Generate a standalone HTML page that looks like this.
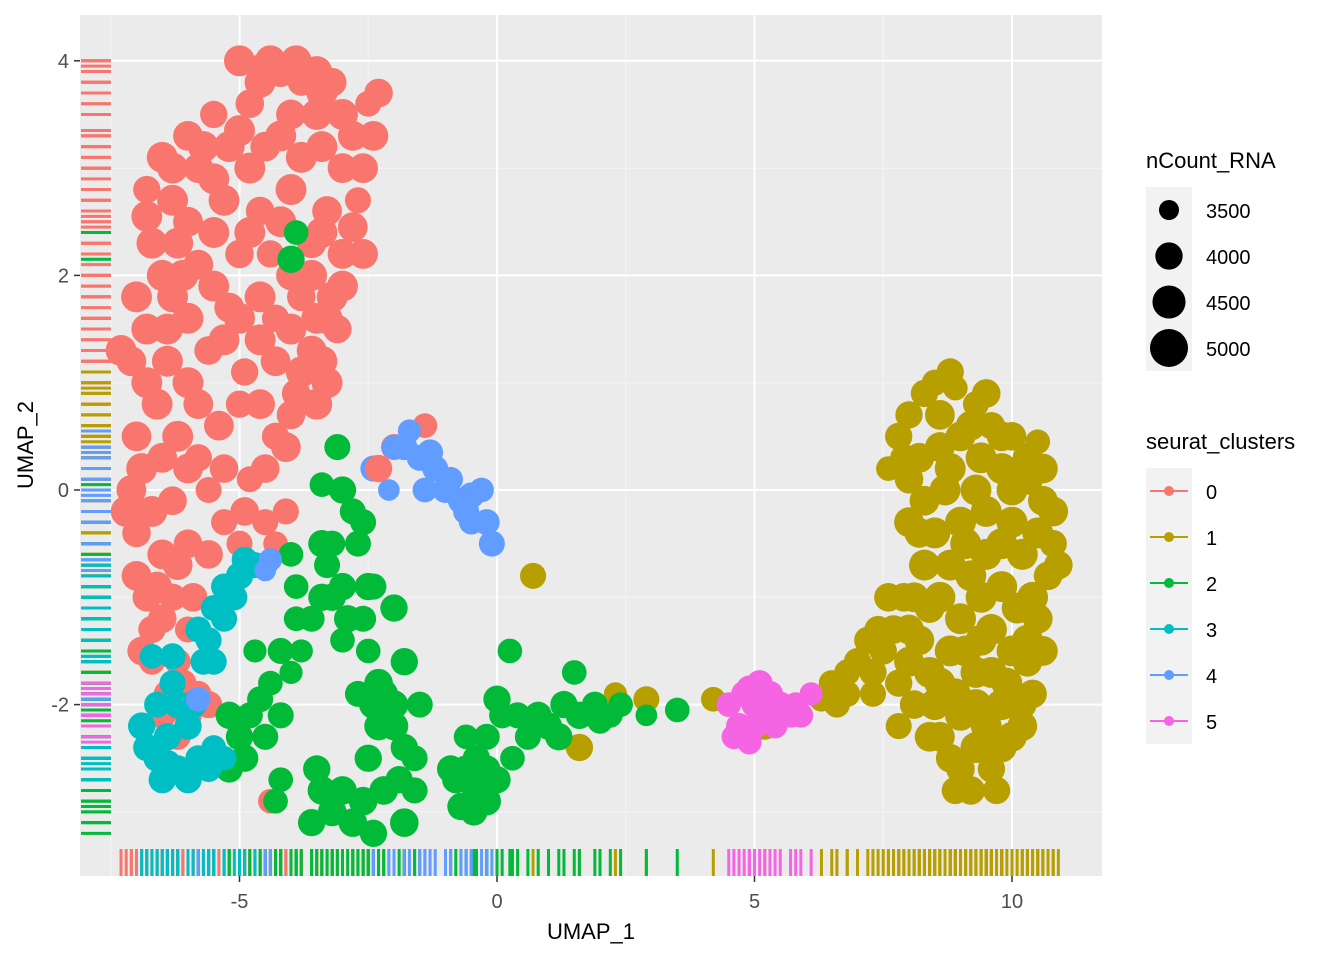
<!DOCTYPE html>
<html><head><meta charset="utf-8"><style>
body{margin:0;background:#fff;font-family:"Liberation Sans",sans-serif}
svg text{font-family:"Liberation Sans",sans-serif}
</style></head><body>
<svg id="chart" width="1344" height="960" xmlns="http://www.w3.org/2000/svg">
<rect x="0" y="0" width="1344" height="960" fill="#fff"/>
<rect x="80" y="15" width="1022" height="861" fill="#EBEBEB"/>
<g id="grid"></g><g id="rugs"></g><g id="points"></g><g id="axes"></g><g id="legend"></g>
</svg>
<script>
const xTicks=[-5,0,5,10];
const yTicks=[4,2,0,-2];
const clusterNames=["0","1","2","3","4","5"];
const clusterColors=["#F8766D","#B79F00","#00BA38","#00BFC4","#619CFF","#F564E3"];
const sizeBreaks=[3500,4000,4500,5000];
// [x, y, nCount]
const c0=[[-5.0,4.0,4300],[-4.5,3.95,4200],[-4.2,3.9,4300],[-3.8,3.8,4000],[-3.2,3.8,4100],[-2.5,3.6,3900],[-2.8,3.3,4200],[-3.5,3.5,4300],[-4.0,3.5,4200],[-4.8,3.6,4100],[-5.5,3.5,4000],[-6.0,3.3,4200],[-6.5,3.1,4300],[-6.8,2.8,4000],[-6.3,2.7,4300],[-5.8,3.0,4200],[-5.2,3.2,4300],[-4.5,3.2,4200],[-3.8,3.1,4300],[-3.0,3.0,4200],[-2.7,2.7,3900],[-3.3,2.6,4200],[-4.0,2.8,4300],[-4.6,2.6,4100],[-5.3,2.7,4300],[-6.0,2.5,4200],[-6.7,2.3,4300],[-6.5,2.0,4300],[-5.8,2.1,4200],[-5.0,2.2,4100],[-4.4,2.2,4000],[-3.6,2.3,4200],[-3.0,2.2,4200],[-3.2,1.8,4300],[-3.8,1.8,4100],[-4.3,1.6,4000],[-5.2,1.7,4200],[-6.0,1.6,4300],[-6.8,1.5,4300],[-7.1,1.2,4200],[-6.4,1.2,4300],[-5.6,1.3,4100],[-4.9,1.1,4000],[-4.3,1.2,4200],[-3.6,1.3,4200],[-3.1,1.5,4100],[-3.3,1.0,4300],[-3.9,0.9,4100],[-4.3,0.5,4000],[-4.0,0.7,4100],[-5.0,0.8,4000],[-5.8,0.8,4200],[-6.6,0.8,4300],[-7.0,0.5,4200],[-6.5,0.3,4200],[-5.8,0.3,4000],[-5.6,0.0,3900],[-6.3,-0.1,4100],[-7.1,0.0,4200],[-7.0,-0.4,4100],[-6.5,-0.6,4200],[-6.0,-0.5,4100],[-5.3,-0.3,3900],[-5.0,-0.5,3900],[-4.5,-0.3,3900],[-4.8,0.1,3900],[-4.1,-0.2,3900],[-4.3,-0.5,3800],[-6.8,-1.0,4100],[-6.3,-1.0,4000],[-6.0,-1.3,3900],[-6.7,-1.3,4000],[-6.2,-1.6,3900],[-6.7,-1.6,3900],[-6.4,-1.9,4000],[-5.8,-1.9,3900],[-6.2,-2.3,3900],[-5.9,-2.6,3900],[-4.4,-2.9,3800],[-1.4,0.6,3800],[-2.0,0.4,3900],[-4.0,2.0,4200],
[-4.6,3.8,4300],[-3.5,3.9,4300],[-3.0,3.5,4300],[-2.4,3.3,4200],[-2.6,3.0,4200],[-3.4,3.2,4300],[-4.2,3.3,4300],[-5.0,3.35,4300],[-5.7,3.2,4300],[-6.3,3.0,4300],[-6.8,2.55,4300],[-6.2,2.3,4300],[-5.5,2.4,4300],[-4.8,2.4,4300],[-4.2,2.5,4300],[-3.4,2.4,4300],[-2.8,2.45,4200],[-2.6,2.2,4200],[-3.0,1.9,4300],[-3.5,1.6,4300],[-4.0,1.5,4300],[-4.6,1.8,4300],[-5.5,1.9,4300],[-6.3,1.8,4300],[-7.0,1.8,4300],[-7.3,1.3,4300],[-6.8,1.0,4300],[-6.0,1.0,4300],[-5.3,1.4,4300],[-4.6,1.4,4300],[-3.8,1.1,4300],[-3.4,1.2,4300],[-3.5,0.8,4300],[-4.1,0.4,4200],[-4.6,0.8,4200],[-5.4,0.6,4200],[-6.2,0.5,4300],[-6.9,0.2,4300],[-7.2,-0.2,4300],[-6.7,-0.2,4300],[-6.2,-0.7,4200],[-6.6,-0.9,4200],[-7.0,-0.8,4200],[-5.6,-0.6,4100],[-4.9,-0.2,4100],[-4.5,0.2,4100],[-6.0,0.2,4200],[-5.3,0.2,4100],[-5.9,-1.0,4100],[-6.5,-1.2,4100],[-6.9,-1.5,4100],[-6.1,-1.8,4000],[-6.0,-2.1,4000],[-5.6,-2.0,4000],[-5.5,-2.5,4000],[-6.5,-2.1,4000],[-3.6,2.0,4300],[-4.8,3.0,4300],[-5.5,2.9,4300],[-6.1,2.0,4300],[-2.3,3.7,4100],[-3.4,3.7,4300],[-4.4,4.0,4300],[-3.9,4.0,4300],[-6.4,1.5,4300],[-5.0,1.6,4300],[-3.3,1.6,4300]];
const c1=[[0.7,-0.8,3900],[2.3,-1.9,3700],[2.9,-1.95,3900],[1.6,-2.4,4000],[4.2,-1.95,3800],[5.2,-2.2,4000],[6.3,-1.95,3800],[6.5,-1.8,3900],[6.8,-1.9,3900],[7.0,-1.6,4000],[7.3,-1.9,3900],[7.5,-1.5,4000],[7.4,-1.3,4000],[7.8,-1.8,4000],[7.9,-1.0,4100],[7.8,-2.2,3900],[7.6,0.2,3800],[7.8,0.5,4000],[8.0,0.7,4000],[8.3,0.9,4000],[8.5,1.0,3900],[8.9,0.95,3800],[9.3,0.8,3900],[9.6,0.6,4000],[10.0,0.5,4100],[10.5,0.45,3800],[8.2,0.3,4200],[8.6,0.4,4200],[9.0,0.5,4200],[9.4,0.3,4300],[9.8,0.2,4300],[10.3,0.1,4300],[10.6,-0.1,4200],[10.8,-0.5,4000],[10.7,-0.8,4100],[10.5,-1.2,4200],[10.3,-1.6,4200],[10.2,-2.0,4100],[10.0,-2.3,4200],[9.6,-2.6,4000],[9.0,-2.6,4100],[9.3,-2.4,4300],[8.6,-2.3,4200],[8.5,-2.0,4300],[8.4,-1.7,4300],[8.2,-1.4,4200],[8.1,-1.0,4200],[8.3,-0.7,4300],[8.5,-0.4,4300],[8.3,-0.1,4200],[8.7,0.0,4300],[9.0,-0.3,4300],[9.5,-0.2,4300],[10.0,-0.3,4300],[9.2,-0.8,4300],[9.8,-0.9,4300],[10.2,-0.6,4300],[9.0,-1.2,4300],[9.6,-1.3,4300],[10.0,-1.5,4300],[9.3,-1.7,4300],[9.8,-2.0,4300],[8.8,-1.5,4300],[8.8,-0.7,4300],[9.6,-1.7,4300],[9.0,-2.1,4300],[8.0,0.1,4100],[8.4,-1.1,4200],[10.4,-1.9,4100],[8.8,-2.5,4100],[9.8,-2.4,4200],[7.3,-1.7,4000],
[8.0,-0.3,4200],[8.6,0.7,4200],[9.2,0.6,4200],[9.8,0.5,4200],[10.3,0.3,4200],[10.6,0.2,4200],[10.8,-0.2,4200],[10.9,-0.7,4100],[10.6,-1.5,4200],[10.4,-1.0,4300],[9.8,-0.5,4300],[9.3,0.0,4300],[8.8,0.2,4300],[9.1,-0.5,4300],[9.5,-0.6,4300],[10.1,-1.1,4300],[9.4,-1.0,4300],[8.6,-1.0,4300],[8.6,-1.8,4300],[9.1,-1.5,4300],[9.9,-1.8,4300],[10.2,-2.2,4200],[9.5,-2.2,4300],[8.4,-2.3,4200],[8.0,-1.6,4200],[8.2,-0.4,4200],[7.6,-1.0,4100],[7.7,-1.3,4100],[8.1,-2.0,4100],[9.2,-2.8,4100],[9.7,-2.8,4000],[8.9,-2.8,4000],[7.2,-1.4,4000],[6.8,-1.7,3900],[6.6,-2.0,3900],[10.5,-0.4,4300],[10.0,0.0,4300],[9.5,0.9,4100],[8.8,1.1,4000],[7.9,0.3,4000],[8.0,-1.3,4200],[10.3,-1.4,4300],[9.4,-1.4,4300],[8.9,-1.9,4300],[9.3,-2.0,4300]];
const c2=[[-3.9,2.4,3800],[-4.0,2.15,4000],[-3.1,0.4,3900],[-3.0,0.0,4000],[-3.4,0.05,3800],[-2.8,-0.2,3900],[-3.2,-0.5,3900],[-2.7,-0.5,3900],[-4.0,-0.6,3800],[-3.9,-0.9,3800],[-3.0,-0.9,4000],[-2.4,-0.9,3900],[-2.0,-1.1,4000],[-3.6,-1.2,3900],[-3.2,-1.0,4000],[-2.6,-1.2,3900],[-2.5,-1.5,3800],[-1.8,-1.6,4000],[-3.0,-1.4,3800],[-4.7,-1.5,3700],[-4.2,-1.5,3900],[-3.8,-1.5,3700],[-4.0,-1.7,3700],[-5.2,-2.1,4000],[-4.8,-2.1,3900],[-4.5,-2.3,3900],[-5.0,-2.3,4000],[-5.2,-2.6,4000],[-4.2,-2.1,3900],[-4.6,-1.95,3900],[-2.7,-1.9,3900],[-2.2,-1.9,4100],[-2.3,-2.2,4100],[-2.5,-2.5,4000],[-1.8,-2.4,4000],[-2.2,-2.8,4100],[-1.9,-2.7,4000],[-3.5,-2.6,4000],[-3.0,-2.8,4100],[-3.2,-3.0,4100],[-3.6,-3.1,4000],[-2.8,-3.1,4100],[-2.4,-3.2,4000],[-1.8,-3.1,4100],[-4.2,-2.7,3800],[-0.8,-2.7,4000],[-0.6,-2.6,4000],[-0.4,-2.8,4100],[-0.2,-2.6,4000],[-0.2,-2.9,4100],[-0.6,-2.3,3800],[-0.2,-2.3,3900],[0.1,-2.1,3900],[0.3,-2.5,3800],[0.0,-1.95,4000],[0.6,-2.3,3900],[0.8,-2.1,4000],[1.0,-2.2,4000],[1.3,-2.0,4000],[1.6,-2.1,4000],[1.9,-2.0,3900],[2.2,-2.1,3800],[2.4,-2.0,3800],[2.9,-2.1,3600],[3.5,-2.05,3800],[1.5,-1.7,3800],[0.25,-1.5,3800],[-4.3,-2.9,3800],[-1.5,-2.0,3900],[-1.6,-2.5,3900],[-1.6,-2.8,3900],
[-3.4,-0.5,4000],[-2.5,-0.9,4000],[-3.4,-1.0,4000],[-2.9,-1.2,4000],[-2.3,-1.8,4100],[-2.4,-2.0,4100],[-2.0,-2.0,4100],[-2.6,-2.9,4100],[-3.4,-2.8,4100],[-2.0,-2.2,4100],[-0.9,-2.6,4000],[-0.4,-2.5,4000],[0.0,-2.7,4000],[1.2,-2.3,4000],[0.4,-2.1,3900],[2.0,-2.15,3900],[-4.9,-2.5,4000],[-4.4,-1.8,3800],[-3.9,-1.2,3800],[-2.6,-0.3,3900],[-3.3,-0.7,3900],[-0.7,-2.95,4000],[-0.45,-3.0,4000]];
const c3=[[-4.7,-0.7,3900],[-5.0,-0.8,4000],[-5.3,-0.9,3900],[-5.5,-1.1,3900],[-5.6,-1.4,3900],[-5.5,-1.6,3900],[-6.7,-1.55,3800],[-6.3,-1.8,3900],[-6.6,-2.0,3900],[-6.9,-2.2,4000],[-6.4,-2.3,4000],[-6.0,-2.2,4000],[-6.6,-2.5,4000],[-6.2,-2.6,4000],[-5.8,-2.5,3900],[-5.5,-2.4,3800],[-6.5,-2.7,4000],[-6.0,-2.7,4000],[-5.3,-2.5,3800],[-4.5,-0.7,3800],[-5.8,-1.3,3900],[-4.9,-0.65,3900],
[-5.9,-2.0,4000],[-6.4,-2.55,4000],[-6.8,-2.4,4000],[-6.2,-2.0,4000],[-5.7,-1.6,3900],[-5.3,-1.2,3900],[-5.1,-1.0,3900],[-5.6,-2.6,3900],[-6.3,-1.55,3900]];
const c4=[[-2.4,0.2,3900],[-2.0,0.4,3800],[-1.7,0.55,3700],[-1.5,0.3,3900],[-1.2,0.2,3900],[-0.9,0.1,3800],[-0.7,-0.1,3900],[-0.5,-0.05,3900],[-0.3,0.0,3800],[-0.5,-0.3,3800],[-0.2,-0.3,3900],[-0.1,-0.5,3900],[-1.4,0.0,3800],[-2.1,0.0,3600],[-4.4,-0.65,3700],[-4.5,-0.75,3600],[-5.8,-1.95,3800],
[-1.0,0.0,3900],[-0.6,-0.2,3900],[-1.8,0.4,3900],[-1.3,0.35,3900]];
const c5=[[4.5,-2.0,3800],[4.8,-1.9,3900],[5.0,-2.0,3900],[4.7,-2.2,3900],[5.2,-2.1,3900],[5.5,-2.0,3900],[5.8,-2.0,3800],[6.1,-1.9,3700],[5.4,-2.2,3800],[4.6,-2.3,3800],[5.0,-2.2,3900],[4.9,-1.85,3900],[5.7,-2.1,3800],
[5.3,-1.9,3900],[5.9,-2.1,3800],[4.9,-2.35,3800],[5.1,-1.8,3900]];
const extraRed=[[-2.3,0.2,4000]];
const clusters=[c0,c1,c2,c3,c4,c5];

const NS="http://www.w3.org/2000/svg";
const X=v=>497+v*51.5;
const Y=v=>490-v*107.3;
const R=n=>Math.sqrt(Math.max(4,-509+0.174*n));
function mk(tag,attrs,parent){const e=document.createElementNS(NS,tag);for(const k in attrs)e.setAttribute(k,attrs[k]);parent.appendChild(e);return e;}
const grid=document.getElementById('grid');
[-7.5,-2.5,2.5,7.5].forEach(v=>{const l=mk('line',{x1:X(v),x2:X(v),y1:15,y2:876,stroke:'#F5F5F5','stroke-width':1},grid);

});
[3,1,-1,-3].forEach(v=>{const l=mk('line',{x1:80,x2:1102,y1:Y(v),y2:Y(v),stroke:'#F5F5F5','stroke-width':1},grid);

});
xTicks.forEach(v=>{const l=mk('line',{x1:X(v),x2:X(v),y1:15,y2:876,stroke:'#fff','stroke-width':2},grid);

});
yTicks.forEach(v=>{const l=mk('line',{x1:80,x2:1102,y1:Y(v),y2:Y(v),stroke:'#fff','stroke-width':2},grid);

});
const rugs=document.getElementById('rugs'),pts=document.getElementById('points');
clusters.forEach((c,i)=>c.forEach(p=>{
 const a=mk('line',{x1:X(p[0]),x2:X(p[0]),y1:849,y2:876,stroke:clusterColors[i],'stroke-width':3},rugs);
 
 
 const b=mk('line',{x1:81,x2:111,y1:Y(p[1]),y2:Y(p[1]),stroke:clusterColors[i],'stroke-width':3},rugs);
 
 
}));
const drawOrder=[0,1,2,3,4,5];
drawOrder.forEach(i=>clusters[i].forEach(p=>{
 const c=mk('circle',{cx:X(p[0]),cy:Y(p[1]),r:R(p[2]),fill:clusterColors[i]},pts);
 
 
}));
extraRed.forEach(p=>{const c=mk('circle',{cx:X(p[0]),cy:Y(p[1]),r:R(p[2]),fill:clusterColors[0]},pts);
 
 });
const ax=document.getElementById('axes');
xTicks.forEach(v=>{mk('line',{x1:X(v),x2:X(v),y1:876,y2:882,stroke:'#333','stroke-width':1.5},ax);
 const t=mk('text',{x:X(v),y:908,'text-anchor':'middle','font-size':20,fill:'#4D4D4D'},ax);t.textContent=v;
 
 });
yTicks.forEach(v=>{mk('line',{x1:74,x2:80,y1:Y(v),y2:Y(v),stroke:'#333','stroke-width':1.5},ax);
 const t=mk('text',{x:69,y:Y(v)+7,'text-anchor':'end','font-size':20,fill:'#4D4D4D'},ax);t.textContent=v;
 
 });
const xt=mk('text',{x:591,y:939,'text-anchor':'middle','font-size':22,fill:'#000'},ax);xt.textContent='UMAP_1';


const yt=mk('text',{x:33,y:445,'text-anchor':'middle','font-size':22,fill:'#000',transform:'rotate(-90 33 445)'},ax);yt.textContent='UMAP_2';


const lg=document.getElementById('legend');
const t1=mk('text',{x:1146,y:168,'font-size':22},lg);t1.textContent='nCount_RNA';


mk('rect',{x:1146,y:187,width:46,height:184,fill:'#F2F2F2'},lg);
sizeBreaks.forEach((s,i)=>{const cy=210+i*46;
 const c=mk('circle',{cx:1169,cy:cy,r:R(s),fill:'#000'},lg);
 
 
 const t=mk('text',{x:1206,y:cy+8,'font-size':20},lg);t.textContent=s;
 
 });
const t2=mk('text',{x:1146,y:449,'font-size':22},lg);t2.textContent='seurat_clusters';


mk('rect',{x:1146,y:468,width:46,height:276,fill:'#F2F2F2'},lg);
clusterNames.forEach((n,i)=>{const cy=491+i*46;
 mk('line',{x1:1150,x2:1188,y1:cy,y2:cy,stroke:clusterColors[i],'stroke-width':2},lg);
 const c=mk('circle',{cx:1169,cy:cy,r:5,fill:clusterColors[i]},lg);
 
 
 const t=mk('text',{x:1206,y:cy+8,'font-size':20},lg);t.textContent=n;
 
 });
</script>
</body></html>
